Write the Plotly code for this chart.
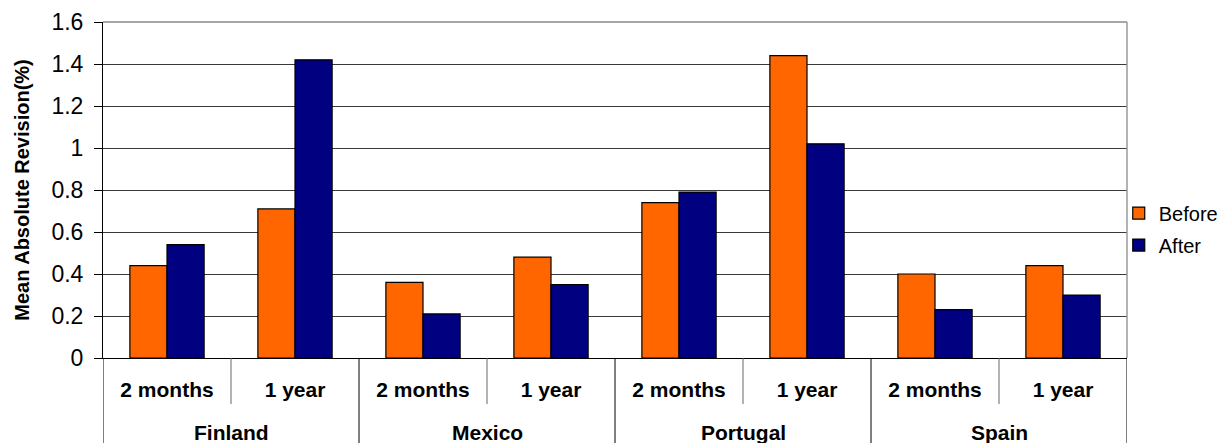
import plotly.graph_objects as go

# Revision data per country and horizon
countries = ["Finland", "Mexico", "Portugal", "Spain"]
horizons = ["2 months", "1 year"]
before = [0.44, 0.71, 0.36, 0.48, 0.74, 1.44, 0.40, 0.44]
after = [0.54, 1.42, 0.21, 0.35, 0.79, 1.02, 0.23, 0.30]
y_ticks = [0, 0.2, 0.4, 0.6, 0.8, 1, 1.2, 1.4, 1.6]

n = len(countries) * len(horizons)
xpos = list(range(n))
sub_labels = [h for _ in countries for h in horizons]

fig = go.Figure()
fig.add_trace(go.Bar(x=xpos, y=before, name="Before", legendgroup="b",
                     marker=dict(color="#FF6600", line=dict(color="#000000", width=1.2))))
fig.add_trace(go.Bar(x=xpos, y=after, name="After", legendgroup="a",
                     marker=dict(color="#000080", line=dict(color="#000000", width=1.2))))

shapes = []
# dividers between horizons (short) and between countries (long)
for i in range(len(countries)):
    shapes.append(dict(type="line", xref="x", yref="paper",
                       x0=2 * i + 0.5, x1=2 * i + 0.5, y0=0, y1=-0.137,
                       line=dict(color="#666666", width=1)))
for i in range(len(countries) + 1):
    shapes.append(dict(type="line", xref="x", yref="paper",
                       x0=2 * i - 0.5, x1=2 * i - 0.5, y0=0, y1=-0.27,
                       line=dict(color="#000000", width=1)))
# top and right frame
shapes.append(dict(type="line", xref="paper", yref="paper", x0=0, x1=1, y0=1, y1=1,
                   line=dict(color="#888888", width=1.5)))
shapes.append(dict(type="line", xref="paper", yref="paper", x0=1, x1=1, y0=0, y1=1,
                   line=dict(color="#999999", width=1.5)))

annotations = []
for i, c in enumerate(countries):
    annotations.append(dict(text="<b>%s</b>" % c, x=2 * i + 0.5, xref="x",
                            y=-0.222, yref="paper", yanchor="middle",
                            showarrow=False,
                            font=dict(family="Liberation Sans, Arial", size=21, color="#000000")))

fig.update_layout(
    width=1220, height=443,
    margin=dict(l=103, r=93, t=22, b=85, autoexpand=False),
    paper_bgcolor="#FFFFFF", plot_bgcolor="#FFFFFF",
    barmode="group", bargap=0.42, bargroupgap=0,
    font=dict(family="Liberation Sans, Arial", color="#000000"),
    shapes=shapes, annotations=annotations,
    legend=dict(xref="container", yref="container",
                x=0.917, xanchor="left", y=0.483, yanchor="middle",
                font=dict(size=20, color="#000000"),
                traceorder="grouped", tracegroupgap=3,
                bgcolor="rgba(0,0,0,0)"),
    xaxis=dict(range=[-0.5, n - 0.5], tickmode="array", tickvals=xpos,
               ticktext=["<b>%s</b>" % s for s in sub_labels],
               tickfont=dict(size=21, color="#000000"),
               ticks="", showgrid=False, zeroline=False,
               showline=True, linecolor="#000000", linewidth=1,
               ticklabelstandoff=13),
    yaxis=dict(range=[0, 1.6], tickmode="array", tickvals=y_ticks,
               ticks="outside", ticklen=8, tickcolor="#000000",
               tickfont=dict(size=23, color="#000000"),
               ticklabelstandoff=6,
               showgrid=True, gridcolor="#3a3a3a", gridwidth=1,
               zeroline=False, showline=True, linecolor="#000000", linewidth=1,
               title=dict(text="<b>Mean Absolute Revision(%)</b>",
                          font=dict(size=20, color="#000000"), standoff=16)),
)

fig.write_html("out.html")
